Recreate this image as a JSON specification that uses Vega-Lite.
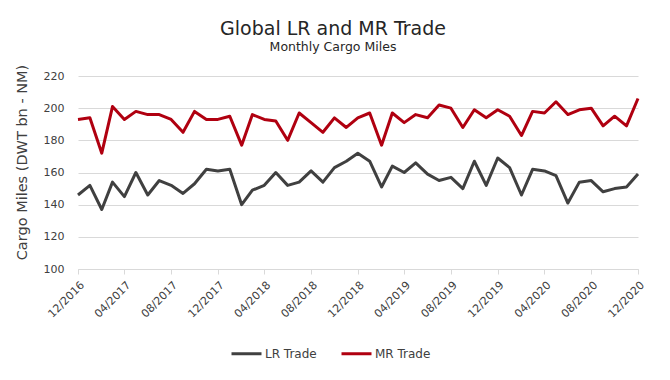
{
  "$schema": "https://vega.github.io/schema/vega-lite/v6.json",
  "width": 560,
  "height": 193,
  "autosize": {"type": "none"},
  "padding": {"left": 78, "top": 76, "right": 32, "bottom": 111},
  "background": "white",
  "config": {
    "font": "DejaVu Sans",
    "view": {"stroke": null},
    "axis": {"labelColor": "#404040", "titleColor": "#404040", "labelFont": "DejaVu Sans", "titleFont": "DejaVu Sans"}
  },
  "title": {
    "text": "Global LR and MR Trade",
    "subtitle": "Monthly Cargo Miles",
    "anchor": "middle",
    "dx": -25,
    "offset": 11,
    "fontSize": 19,
    "fontWeight": "normal",
    "color": "#262626",
    "subtitleFontSize": 12.5,
    "subtitleColor": "#262626",
    "subtitlePadding": 2,
    "font": "DejaVu Sans",
    "subtitleFont": "DejaVu Sans"
  },
  "data": {
    "values": [
      {"date": "2016-12-01T00:00:00", "series": "LR Trade", "value": 146},
      {"date": "2017-01-01T00:00:00", "series": "LR Trade", "value": 152},
      {"date": "2017-02-01T00:00:00", "series": "LR Trade", "value": 137},
      {"date": "2017-03-01T00:00:00", "series": "LR Trade", "value": 154},
      {"date": "2017-04-01T00:00:00", "series": "LR Trade", "value": 145},
      {"date": "2017-05-01T00:00:00", "series": "LR Trade", "value": 160},
      {"date": "2017-06-01T00:00:00", "series": "LR Trade", "value": 146},
      {"date": "2017-07-01T00:00:00", "series": "LR Trade", "value": 155},
      {"date": "2017-08-01T00:00:00", "series": "LR Trade", "value": 152},
      {"date": "2017-09-01T00:00:00", "series": "LR Trade", "value": 147},
      {"date": "2017-10-01T00:00:00", "series": "LR Trade", "value": 153},
      {"date": "2017-11-01T00:00:00", "series": "LR Trade", "value": 162},
      {"date": "2017-12-01T00:00:00", "series": "LR Trade", "value": 161},
      {"date": "2018-01-01T00:00:00", "series": "LR Trade", "value": 162},
      {"date": "2018-02-01T00:00:00", "series": "LR Trade", "value": 140},
      {"date": "2018-03-01T00:00:00", "series": "LR Trade", "value": 149},
      {"date": "2018-04-01T00:00:00", "series": "LR Trade", "value": 152},
      {"date": "2018-05-01T00:00:00", "series": "LR Trade", "value": 160},
      {"date": "2018-06-01T00:00:00", "series": "LR Trade", "value": 152},
      {"date": "2018-07-01T00:00:00", "series": "LR Trade", "value": 154},
      {"date": "2018-08-01T00:00:00", "series": "LR Trade", "value": 161},
      {"date": "2018-09-01T00:00:00", "series": "LR Trade", "value": 154},
      {"date": "2018-10-01T00:00:00", "series": "LR Trade", "value": 163},
      {"date": "2018-11-01T00:00:00", "series": "LR Trade", "value": 167},
      {"date": "2018-12-01T00:00:00", "series": "LR Trade", "value": 172},
      {"date": "2019-01-01T00:00:00", "series": "LR Trade", "value": 167},
      {"date": "2019-02-01T00:00:00", "series": "LR Trade", "value": 151},
      {"date": "2019-03-01T00:00:00", "series": "LR Trade", "value": 164},
      {"date": "2019-04-01T00:00:00", "series": "LR Trade", "value": 160},
      {"date": "2019-05-01T00:00:00", "series": "LR Trade", "value": 166},
      {"date": "2019-06-01T00:00:00", "series": "LR Trade", "value": 159},
      {"date": "2019-07-01T00:00:00", "series": "LR Trade", "value": 155},
      {"date": "2019-08-01T00:00:00", "series": "LR Trade", "value": 157},
      {"date": "2019-09-01T00:00:00", "series": "LR Trade", "value": 150},
      {"date": "2019-10-01T00:00:00", "series": "LR Trade", "value": 167},
      {"date": "2019-11-01T00:00:00", "series": "LR Trade", "value": 152},
      {"date": "2019-12-01T00:00:00", "series": "LR Trade", "value": 169},
      {"date": "2020-01-01T00:00:00", "series": "LR Trade", "value": 163},
      {"date": "2020-02-01T00:00:00", "series": "LR Trade", "value": 146},
      {"date": "2020-03-01T00:00:00", "series": "LR Trade", "value": 162},
      {"date": "2020-04-01T00:00:00", "series": "LR Trade", "value": 161},
      {"date": "2020-05-01T00:00:00", "series": "LR Trade", "value": 158},
      {"date": "2020-06-01T00:00:00", "series": "LR Trade", "value": 141},
      {"date": "2020-07-01T00:00:00", "series": "LR Trade", "value": 154},
      {"date": "2020-08-01T00:00:00", "series": "LR Trade", "value": 155},
      {"date": "2020-09-01T00:00:00", "series": "LR Trade", "value": 148},
      {"date": "2020-10-01T00:00:00", "series": "LR Trade", "value": 150},
      {"date": "2020-11-01T00:00:00", "series": "LR Trade", "value": 151},
      {"date": "2020-12-01T00:00:00", "series": "LR Trade", "value": 159},
      {"date": "2016-12-01T00:00:00", "series": "MR Trade", "value": 193},
      {"date": "2017-01-01T00:00:00", "series": "MR Trade", "value": 194},
      {"date": "2017-02-01T00:00:00", "series": "MR Trade", "value": 172},
      {"date": "2017-03-01T00:00:00", "series": "MR Trade", "value": 201},
      {"date": "2017-04-01T00:00:00", "series": "MR Trade", "value": 193},
      {"date": "2017-05-01T00:00:00", "series": "MR Trade", "value": 198},
      {"date": "2017-06-01T00:00:00", "series": "MR Trade", "value": 196},
      {"date": "2017-07-01T00:00:00", "series": "MR Trade", "value": 196},
      {"date": "2017-08-01T00:00:00", "series": "MR Trade", "value": 193},
      {"date": "2017-09-01T00:00:00", "series": "MR Trade", "value": 185},
      {"date": "2017-10-01T00:00:00", "series": "MR Trade", "value": 198},
      {"date": "2017-11-01T00:00:00", "series": "MR Trade", "value": 193},
      {"date": "2017-12-01T00:00:00", "series": "MR Trade", "value": 193},
      {"date": "2018-01-01T00:00:00", "series": "MR Trade", "value": 195},
      {"date": "2018-02-01T00:00:00", "series": "MR Trade", "value": 177},
      {"date": "2018-03-01T00:00:00", "series": "MR Trade", "value": 196},
      {"date": "2018-04-01T00:00:00", "series": "MR Trade", "value": 193},
      {"date": "2018-05-01T00:00:00", "series": "MR Trade", "value": 192},
      {"date": "2018-06-01T00:00:00", "series": "MR Trade", "value": 180},
      {"date": "2018-07-01T00:00:00", "series": "MR Trade", "value": 197},
      {"date": "2018-08-01T00:00:00", "series": "MR Trade", "value": 191},
      {"date": "2018-09-01T00:00:00", "series": "MR Trade", "value": 185},
      {"date": "2018-10-01T00:00:00", "series": "MR Trade", "value": 194},
      {"date": "2018-11-01T00:00:00", "series": "MR Trade", "value": 188},
      {"date": "2018-12-01T00:00:00", "series": "MR Trade", "value": 194},
      {"date": "2019-01-01T00:00:00", "series": "MR Trade", "value": 197},
      {"date": "2019-02-01T00:00:00", "series": "MR Trade", "value": 177},
      {"date": "2019-03-01T00:00:00", "series": "MR Trade", "value": 197},
      {"date": "2019-04-01T00:00:00", "series": "MR Trade", "value": 191},
      {"date": "2019-05-01T00:00:00", "series": "MR Trade", "value": 196},
      {"date": "2019-06-01T00:00:00", "series": "MR Trade", "value": 194},
      {"date": "2019-07-01T00:00:00", "series": "MR Trade", "value": 202},
      {"date": "2019-08-01T00:00:00", "series": "MR Trade", "value": 200},
      {"date": "2019-09-01T00:00:00", "series": "MR Trade", "value": 188},
      {"date": "2019-10-01T00:00:00", "series": "MR Trade", "value": 199},
      {"date": "2019-11-01T00:00:00", "series": "MR Trade", "value": 194},
      {"date": "2019-12-01T00:00:00", "series": "MR Trade", "value": 199},
      {"date": "2020-01-01T00:00:00", "series": "MR Trade", "value": 195},
      {"date": "2020-02-01T00:00:00", "series": "MR Trade", "value": 183},
      {"date": "2020-03-01T00:00:00", "series": "MR Trade", "value": 198},
      {"date": "2020-04-01T00:00:00", "series": "MR Trade", "value": 197},
      {"date": "2020-05-01T00:00:00", "series": "MR Trade", "value": 204},
      {"date": "2020-06-01T00:00:00", "series": "MR Trade", "value": 196},
      {"date": "2020-07-01T00:00:00", "series": "MR Trade", "value": 199},
      {"date": "2020-08-01T00:00:00", "series": "MR Trade", "value": 200},
      {"date": "2020-09-01T00:00:00", "series": "MR Trade", "value": 189},
      {"date": "2020-10-01T00:00:00", "series": "MR Trade", "value": 195},
      {"date": "2020-11-01T00:00:00", "series": "MR Trade", "value": 189},
      {"date": "2020-12-01T00:00:00", "series": "MR Trade", "value": 206}
    ]
  },
  "mark": {"type": "line", "strokeWidth": 3, "strokeJoin": "round"},
  "encoding": {
    "x": {
      "field": "date",
      "type": "temporal",
      "scale": {"nice": false},
      "axis": {
        "title": null,
        "format": "%m/%Y",
        "values": [
          {"year": 2016, "month": 12, "date": 1},
          {"year": 2017, "month": 4, "date": 1},
          {"year": 2017, "month": 8, "date": 1},
          {"year": 2017, "month": 12, "date": 1},
          {"year": 2018, "month": 4, "date": 1},
          {"year": 2018, "month": 8, "date": 1},
          {"year": 2018, "month": 12, "date": 1},
          {"year": 2019, "month": 4, "date": 1},
          {"year": 2019, "month": 8, "date": 1},
          {"year": 2019, "month": 12, "date": 1},
          {"year": 2020, "month": 4, "date": 1},
          {"year": 2020, "month": 8, "date": 1},
          {"year": 2020, "month": 12, "date": 1}
        ],
        "labelAngle": -45,
        "labelFontSize": 11,
        "labelPadding": 5,
        "labelOverlap": false,
        "labelFlush": false,
        "grid": false,
        "domainColor": "#d9d9d9",
        "tickColor": "#d9d9d9",
        "tickSize": 5
      }
    },
    "y": {
      "field": "value",
      "type": "quantitative",
      "scale": {"domain": [100, 220], "nice": false, "zero": false},
      "axis": {
        "title": "Cargo Miles (DWT bn - NM)",
        "titleFontSize": 14.5,
        "titleFontWeight": "normal",
        "titleX": -52,
        "titleY": 86,
        "titleBaseline": "alphabetic",
        "values": [100, 120, 140, 160, 180, 200, 220],
        "labelFontSize": 11,
        "labelPadding": 14,
        "ticks": false,
        "domain": false,
        "gridColor": "#d9d9d9",
        "gridWidth": 1
      }
    },
    "color": {
      "field": "series",
      "type": "nominal",
      "scale": {"domain": ["LR Trade", "MR Trade"], "range": ["#404040", "#b00010"]},
      "legend": {
        "title": null,
        "orient": "none",
        "direction": "horizontal",
        "legendX": 152,
        "legendY": 261,
        "symbolType": "stroke",
        "symbolSize": 900,
        "symbolStrokeWidth": 3,
        "labelFontSize": 12,
        "labelColor": "#404040",
        "labelOffset": 2,
        "columnPadding": 18
      }
    }
  }
}
